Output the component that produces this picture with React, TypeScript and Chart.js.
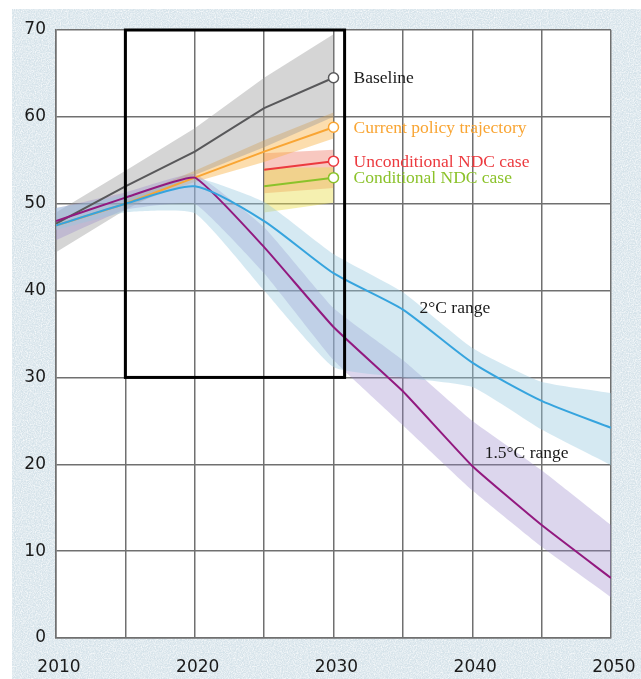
import React, { useEffect, useRef } from 'react';
import { Chart, registerables } from 'chart.js';

Chart.register(...registerables);

// ---- Data ----
const years = [2010, 2015, 2020, 2025, 2030, 2035, 2040, 2045, 2050];
const baseYears = [2010, 2015, 2020, 2025, 2030];
const policyBandYears = [2015, 2020, 2025, 2030];
const ndcYears = [2025, 2030];

const baseline = [47.7, 52, 56, 61, 64.5];
const baselineHigh = [49, 53.8, 58.7, 64.5, 69.5];
const baselineLow = [44.4, 49.3, 53.3, 56.5, 60];

const currentPolicy = [47.5, 50, 53, 56, 58.8];
const currentPolicyHigh = [50.5, 53.8, 57.3, 60.5];
const currentPolicyLow = [49.7, 52.5, 54.8, 57.5];

const unconditionalNdc = [53.9, 54.9];
const unconditionalHigh = [55.8, 56.2];
const unconditionalLow = [51.2, 51.8];

const conditionalNdc = [52, 53];
const conditionalHigh = [54.1, 54.2];
const conditionalLow = [49.0, 50.1];

const twoDegree = [47.5, 50, 52, 48, 42, 37.8, 31.7, 27.3, 24.2];
const twoDegreeHigh = [49.5, 51, 53, 50.2, 44.2, 39.8, 33.4, 29.5, 28.2];
const twoDegreeLow = [47, 49, 48.9, 40, 31.2, 30.0, 28.9, 24.0, 19.9];

const onePointFive = [48, 50.7, 53, 45, 35.8, 28.4, 19.8, 13, 6.9];
const onePointFiveHigh = [49.5, 51.3, 53.4, 47.3, 38, 32, 25, 19.3, 13];
const onePointFiveLow = [45.8, 49.3, 50, 42, 32, 24.5, 17, 10.5, 4.7];

const yTicks = [0, 10, 20, 30, 40, 50, 60, 70];

// focus box (data units)
const boxX = [2015, 2030.8];
const boxY = [30, 70];

const rangeLabels = [
  { text: '2°C range', x: 2036.2, y: 38.0 },
  { text: '1.5°C range', x: 2040.9, y: 21.3 },
];

const COLORS = {
  baseline: '#58585a',
  policy: '#f9a533',
  uncond: '#ec3a3f',
  cond: '#8bc22a',
  two: '#36a4de',
  one5: '#92197f',
};

const NOISE =
  "url(\"data:image/svg+xml;utf8,<svg xmlns='http://www.w3.org/2000/svg' width='240' height='240'><filter id='n'><feTurbulence type='fractalNoise' baseFrequency='0.85' numOctaves='2' stitchTiles='stitch'/><feColorMatrix type='matrix' values='0 0 0 0 1  0 0 0 0 1  0 0 0 0 1  0 0 0 1.6 -0.55'/></filter><rect width='100%' height='100%' filter='url(%23n)'/></svg>\")";

const pts = (xs: number[], ys: number[]) => xs.map((x, i) => ({ x, y: ys[i] }));

const lastMarker = (ctx: any) => (ctx.dataIndex === ctx.dataset.data.length - 1 ? 5 : 0);

function band(label: string, xs: number[], hi: number[], lo: number[], color: string, tension = 0) {
  return [
    {
      label: label + ' high',
      data: pts(xs, hi),
      borderWidth: 0,
      pointRadius: 0,
      fill: '+1',
      backgroundColor: color,
      borderColor: 'transparent',
      tension,
      order: 5,
    },
    {
      label: label + ' low',
      data: pts(xs, lo),
      borderWidth: 0,
      pointRadius: 0,
      fill: false,
      borderColor: 'transparent',
      tension,
      order: 5,
    },
  ];
}

function line(label: string, xs: number[], ys: number[], color: string, marker: boolean, tension = 0) {
  return {
    label,
    data: pts(xs, ys),
    borderColor: color,
    borderWidth: 2,
    fill: false,
    tension,
    pointRadius: marker ? lastMarker : 0,
    pointBackgroundColor: '#ffffff',
    pointBorderColor: color,
    pointBorderWidth: 1.5,
    order: 1,
  };
}

const overlayPlugin = {
  id: 'overlay',
  beforeDraw(chart: any) {
    const { ctx, chartArea } = chart;
    ctx.save();
    ctx.fillStyle = '#ffffff';
    ctx.fillRect(chartArea.left, chartArea.top, chartArea.right - chartArea.left, chartArea.bottom - chartArea.top);
    ctx.restore();
  },
  afterDatasetsDraw(chart: any) {
    const { ctx } = chart;
    const xs = chart.scales.x;
    const ys = chart.scales.y;
    ctx.save();
    // focus box
    ctx.strokeStyle = '#000000';
    ctx.lineWidth = 3;
    const x0 = xs.getPixelForValue(boxX[0]);
    const x1 = xs.getPixelForValue(boxX[1]);
    const y0 = ys.getPixelForValue(boxY[1]);
    const y1 = ys.getPixelForValue(boxY[0]);
    ctx.strokeRect(x0, y0, x1 - x0, y1 - y0);

    // end labels
    ctx.font = '17.5px "Liberation Serif", "DejaVu Serif", serif';
    ctx.textAlign = 'left';
    ctx.textBaseline = 'middle';
    const endLabels = [
      { text: 'Baseline', v: baseline[baseline.length - 1], c: '#1a1a1a' },
      { text: 'Current policy trajectory', v: currentPolicy[currentPolicy.length - 1], c: COLORS.policy },
      { text: 'Unconditional NDC case', v: unconditionalNdc[unconditionalNdc.length - 1], c: COLORS.uncond },
      { text: 'Conditional NDC case', v: conditionalNdc[conditionalNdc.length - 1], c: COLORS.cond },
    ];
    const lx = xs.getPixelForValue(2030) + 20;
    endLabels.forEach((l) => {
      ctx.fillStyle = l.c;
      ctx.fillText(l.text, lx, ys.getPixelForValue(l.v) + 1);
    });
    ctx.fillStyle = '#1a1a1a';
    rangeLabels.forEach((l) => {
      ctx.fillText(l.text, xs.getPixelForValue(l.x), ys.getPixelForValue(l.y));
    });
    ctx.restore();
  },
};

export default function App() {
  const ref = useRef<HTMLCanvasElement>(null);

  useEffect(() => {
    if (!ref.current) return;
    const datasets: any[] = [
      ...band('2°C', years, twoDegreeHigh, twoDegreeLow, 'rgba(150,200,222,0.40)', 0.15),
      ...band('1.5°C', years, onePointFiveHigh, onePointFiveLow, 'rgba(150,130,200,0.33)', 0.12),
      ...band('Baseline', baseYears, baselineHigh, baselineLow, 'rgba(150,150,150,0.40)'),
      ...band('Current policy', policyBandYears, currentPolicyHigh, currentPolicyLow, 'rgba(249,175,60,0.42)'),
      ...band('Conditional', ndcYears, conditionalHigh, conditionalLow, 'rgba(232,222,80,0.45)'),
      ...band('Unconditional', ndcYears, unconditionalHigh, unconditionalLow, 'rgba(236,110,90,0.38)'),
      line('2°C range', years, twoDegree, COLORS.two, false, 0.22),
      line('1.5°C range', years, onePointFive, COLORS.one5, false, 0.12),
      line('Baseline', baseYears, baseline, COLORS.baseline, true),
      line('Current policy trajectory', baseYears, currentPolicy, COLORS.policy, true),
      line('Conditional NDC case', ndcYears, conditionalNdc, COLORS.cond, true),
      line('Unconditional NDC case', ndcYears, unconditionalNdc, COLORS.uncond, true),
    ];

    const tickFont = { family: '"DejaVu Sans", sans-serif', size: 17 };
    const chart = new Chart(ref.current, {
      type: 'line',
      data: { datasets },
      plugins: [overlayPlugin],
      options: {
        animation: false,
        responsive: false,
        devicePixelRatio: 1,
        layout: { padding: { left: 0, top: 21, right: 30, bottom: 0 } },
        plugins: {
          legend: { display: false },
          tooltip: { enabled: false },
        },
        scales: {
          x: {
            type: 'linear',
            min: years[0],
            max: years[years.length - 1],
            afterFit: (s: any) => {
              s.height = 41;
              s.paddingLeft = 0;
              s.paddingRight = 0;
            },
            border: { color: '#707070', width: 1.5 },
            grid: { color: '#707070', lineWidth: 1.5, drawTicks: false },
            ticks: {
              stepSize: 5,
              autoSkip: false,
              maxRotation: 0,
              padding: 19,
              labelOffset: 3,
              color: '#1a1a1a',
              font: tickFont,
              callback: (v: any) => (Number(v) % 10 === 0 ? String(v) : ''),
            },
          },
          y: {
            min: yTicks[0],
            max: yTicks[yTicks.length - 1],
            afterFit: (s: any) => {
              s.width = 44;
              s.paddingTop = 0;
              s.paddingBottom = 0;
            },
            afterBuildTicks: (s: any) => {
              s.ticks = yTicks.map((v) => ({ value: v }));
            },
            border: { color: '#707070', width: 1.5 },
            grid: { color: '#707070', lineWidth: 1.5, drawTicks: false },
            ticks: {
              padding: 10,
              color: '#1a1a1a',
              font: tickFont,
            },
          },
        },
      } as any,
    });
    return () => chart.destroy();
  }, []);

  return (
    <div
      style={{
        position: 'absolute',
        left: 12,
        top: 9,
        width: 629,
        height: 670,
        backgroundColor: '#d6e3ea',
        backgroundImage: NOISE,
      }}
    >
      <canvas ref={ref} width={629} height={670} style={{ display: 'block' }} />
    </div>
  );
}
